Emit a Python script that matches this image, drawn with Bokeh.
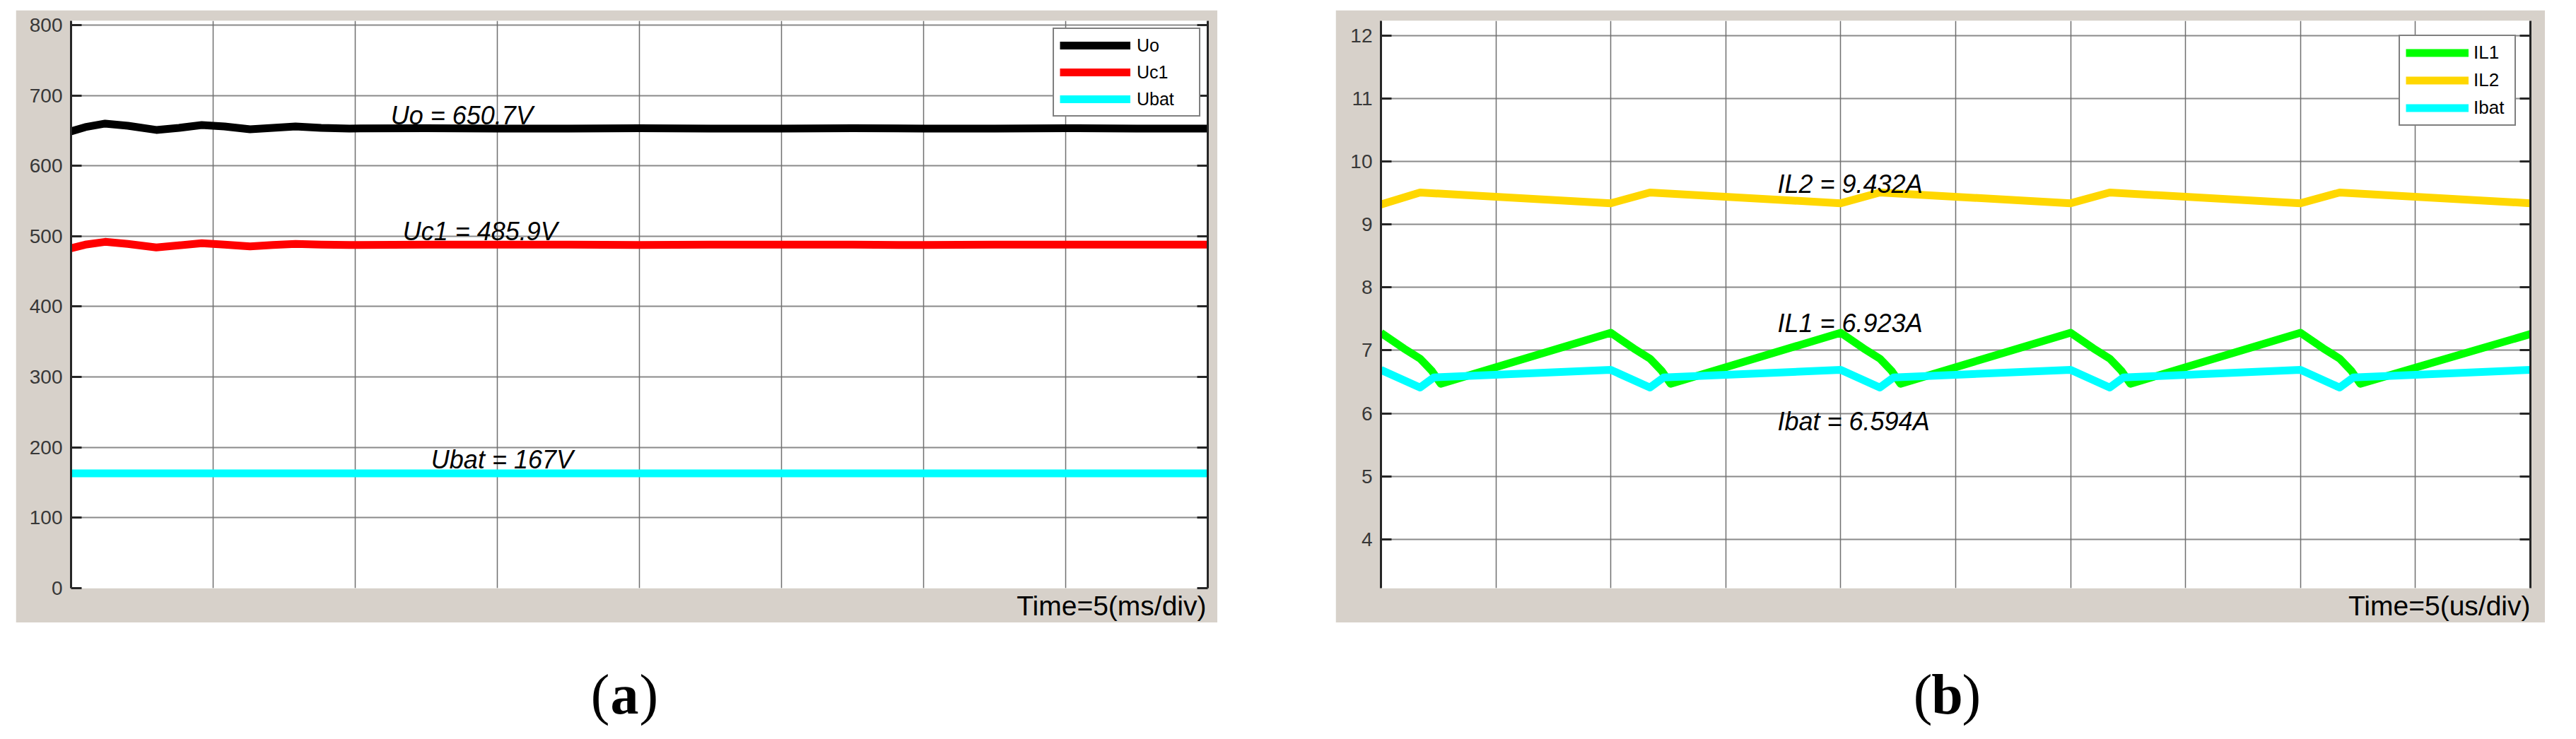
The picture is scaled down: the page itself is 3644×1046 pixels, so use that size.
from bokeh.plotting import figure
from bokeh.models import Range1d, FixedTicker, LinearAxis, Legend, LegendItem, Label, Grid, Title, Spacer
from bokeh.layouts import row, column
from bokeh.embed import file_html
from bokeh.resources import INLINE

# ---------------- Panel (a): voltages, time in ms (5 ms/div) ----------------
t_a = [0, 0.5, 1.2, 2.0, 3.0, 3.8, 4.6, 5.4, 6.3, 7.1, 7.9, 8.8, 9.8,
       12.5, 15, 17.5, 20, 22.5, 25, 27.5, 30, 32.5, 35, 37.5, 40]
u_o = [649, 655, 660, 657, 651, 654, 658, 656, 652, 654, 656, 654, 653,
       653.5, 653, 653, 653.5, 653, 653, 653.5, 653, 653, 653.5, 653, 653]
u_c1 = [483, 488, 492, 489, 484, 487, 490, 488, 485.5, 487.5, 489, 488, 487.5,
        488, 488, 488, 487.5, 488, 488, 488, 487.5, 488, 488, 488, 488]
u_bat = [163, 163, 163, 163, 163, 163, 163, 163, 163, 163, 163, 163, 163,
         163, 163, 163, 163, 163, 163, 163, 163, 163, 163, 163, 163]
y_ticks_a = [0, 100, 200, 300, 400, 500, 600, 700, 800]
x_ticks_a = [0, 5, 10, 15, 20, 25, 30, 35, 40]
names_a = ["Uo", "Uc1", "Ubat"]
notes_a = ["Uo = 650.7V", "Uc1 = 485.9V", "Ubat = 167V"]

# ---------------- Panel (b): currents, time in us (5 us/div) ----------------
t_il1 = [0, 1.0, 1.7, 2.2, 2.6, 10, 11.0, 11.7, 12.2, 12.6, 20, 21.0, 21.7, 22.2, 22.6,
         30, 31.0, 31.7, 32.2, 32.6, 40, 41.0, 41.7, 42.2, 42.6, 50]
il1 = [7.28, 7.03, 6.87, 6.68, 6.47, 7.28, 7.03, 6.87, 6.68, 6.47, 7.28, 7.03, 6.87, 6.68, 6.47,
       7.28, 7.03, 6.87, 6.68, 6.47, 7.28, 7.03, 6.87, 6.68, 6.47, 7.26]
t_il2 = [0, 1.7, 10, 11.7, 20, 21.7, 30, 31.7, 40, 41.7, 50]
il2 = [9.32, 9.51, 9.34, 9.51, 9.34, 9.51, 9.34, 9.51, 9.34, 9.51, 9.34]
t_ibat = [0, 1.7, 2.3, 10, 11.7, 12.3, 20, 21.7, 22.3, 30, 31.7, 32.3, 40, 41.7, 42.3, 50]
ibat = [6.69, 6.41, 6.57, 6.69, 6.41, 6.57, 6.69, 6.41, 6.57, 6.69, 6.41, 6.57, 6.69, 6.41, 6.57, 6.69]
y_ticks_b = [4, 5, 6, 7, 8, 9, 10, 11, 12]
x_ticks_b = [0, 5, 10, 15, 20, 25, 30, 35, 40, 45, 50]
names_b = ["IL1", "IL2", "Ibat"]
notes_b = ["IL2 = 9.432A", "IL1 = 6.923A", "Ibat = 6.594A"]

GREY = "#d7d1ca"
DARK = "#262626"
FONT = "Liberation Sans"


def scope_figure(width, height, xr, yr, yt, xt, bl, br, bt, bb, time_text, time_offset):
    p = figure(width=width, height=height, x_range=Range1d(*xr), y_range=Range1d(*yr),
               output_backend="svg", toolbar_location=None, x_axis_location=None,
               min_border_left=bl, min_border_right=br, min_border_top=bt, min_border_bottom=bb,
               border_fill_color=GREY, background_fill_color="white", outline_line_color=None)
    p.add_layout(Grid(dimension=0, ticker=FixedTicker(ticks=xt),
                      grid_line_color="#6f6f6f", grid_line_width=1.5))
    p.ygrid.ticker = FixedTicker(ticks=yt)
    p.ygrid.grid_line_color = "#8a8a8a"
    p.ygrid.grid_line_width = 2
    ya = p.yaxis[0]
    ya.ticker = FixedTicker(ticks=yt)
    ya.major_tick_in = 15
    ya.major_tick_out = 0
    ya.minor_tick_line_color = None
    ya.axis_line_color = DARK
    ya.axis_line_width = 3
    ya.major_tick_line_color = DARK
    ya.major_tick_line_width = 3
    ya.major_label_text_font = FONT
    ya.major_label_text_font_size = "28px"
    ya.major_label_text_color = "#383838"
    ya.major_label_standoff = 12
    ra = LinearAxis(ticker=FixedTicker(ticks=yt), major_label_text_font_size="1px",
                    major_label_text_color=None,
                    major_label_standoff=0, major_tick_in=15, major_tick_out=0,
                    minor_tick_line_color=None, axis_line_color=DARK, axis_line_width=3,
                    major_tick_line_color=DARK, major_tick_line_width=3)
    p.add_layout(ra, "right")
    p.add_layout(Title(text=time_text, align="right", text_font=FONT, text_font_size="39px",
                       text_font_style="normal", text_color="black", offset=time_offset,
                       standoff=2), "below")
    return p


def caption_figure(width, height, cx, cy, letter):
    c = figure(width=width, height=height, x_range=Range1d(0, width), y_range=Range1d(0, height),
               output_backend="svg", toolbar_location=None, x_axis_type=None, y_axis_type=None,
               min_border=0, outline_line_color=None, border_fill_color="white",
               background_fill_color="white")
    c.grid.visible = False
    fs = "80px"
    c.add_layout(Label(x=cx, y=cy, text=letter, text_align="center", text_baseline="middle",
                       text_font="Liberation Serif", text_font_style="bold", text_font_size=fs,
                       text_color="black"))
    c.add_layout(Label(x=cx, y=cy, x_offset=-21, text="(", text_align="right",
                       text_baseline="middle", text_font="Liberation Serif",
                       text_font_size=fs, text_color="black"))
    c.add_layout(Label(x=cx, y=cy, x_offset=21, text=")", text_align="left",
                       text_baseline="middle", text_font="Liberation Serif",
                       text_font_size=fs, text_color="black"))
    return c


# ---------------- build panel (a) ----------------
pa = scope_figure(1700, 867, (0, 40), (0, 806), y_ticks_a, x_ticks_a, 78, 14, 15, 48,
                  "Time=5(ms/div)", 2)
ra1 = pa.line(t_a, u_o, line_color="black", line_width=11, line_join="round")
ra2 = pa.line(t_a, u_c1, line_color="#ff0000", line_width=11, line_join="round")
ra3 = pa.line(t_a, u_bat, line_color="#00ffff", line_width=11, line_join="round")
leg_a = Legend(items=[LegendItem(label=names_a[0], renderers=[ra1]),
                      LegendItem(label=names_a[1], renderers=[ra2]),
                      LegendItem(label=names_a[2], renderers=[ra3])],
               location="top_right", margin=10, padding=8, spacing=8,
               glyph_width=100, glyph_height=30, label_height=30, label_width=80,
               label_standoff=9, label_text_font=FONT, label_text_font_size="25px",
               label_text_color="black", border_line_color="black", border_line_width=2,
               background_fill_color="white", background_fill_alpha=1)
pa.add_layout(leg_a)
for txt, x, y in zip(notes_a, [11.25, 11.67, 12.67], [671, 507, 183]):
    pa.add_layout(Label(x=x, y=y, text=txt, text_font=FONT, text_font_style="italic",
                        text_font_size="36px", text_color="black", text_baseline="alphabetic"))

# ---------------- build panel (b) ----------------
pb = scope_figure(1711, 867, (0, 50), (3.22, 12.24), y_ticks_b, x_ticks_b, 64, 21, 15, 49,
                  "Time=5(us/div)", 0)
rb1 = pb.line(t_il1, il1, line_color="#00ff00", line_width=11, line_join="round")
rb2 = pb.line(t_il2, il2, line_color="#ffd700", line_width=11, line_join="round")
rb3 = pb.line(t_ibat, ibat, line_color="#00ffff", line_width=11, line_join="round")
leg_b = Legend(items=[LegendItem(label=names_b[0], renderers=[rb1]),
                      LegendItem(label=names_b[1], renderers=[rb2]),
                      LegendItem(label=names_b[2], renderers=[rb3])],
               location="top_right", margin=20, padding=8, spacing=8,
               glyph_width=89, glyph_height=31, label_height=31, label_width=50,
               label_standoff=7, label_text_font=FONT, label_text_font_size="26px",
               label_text_color="black", border_line_color="black", border_line_width=2,
               background_fill_color="white", background_fill_alpha=1)
pb.add_layout(leg_b)
for txt, x, y in zip(notes_b, [17.25, 17.25, 17.25], [9.64, 7.43, 5.87]):
    pb.add_layout(Label(x=x, y=y, text=txt, text_font=FONT, text_font_style="italic",
                        text_font_size="36px", text_color="black", text_baseline="alphabetic"))

# ---------------- captions ----------------
ca = caption_figure(1700, 148, 861, 47, "a")
cb = caption_figure(1711, 148, 865, 47, "b")

layout = column(Spacer(height=14),
                row(Spacer(width=22), pa, Spacer(width=167), pb),
                row(Spacer(width=22), ca, Spacer(width=167), cb))

open("out.html", "w").write(file_html(layout, INLINE))
